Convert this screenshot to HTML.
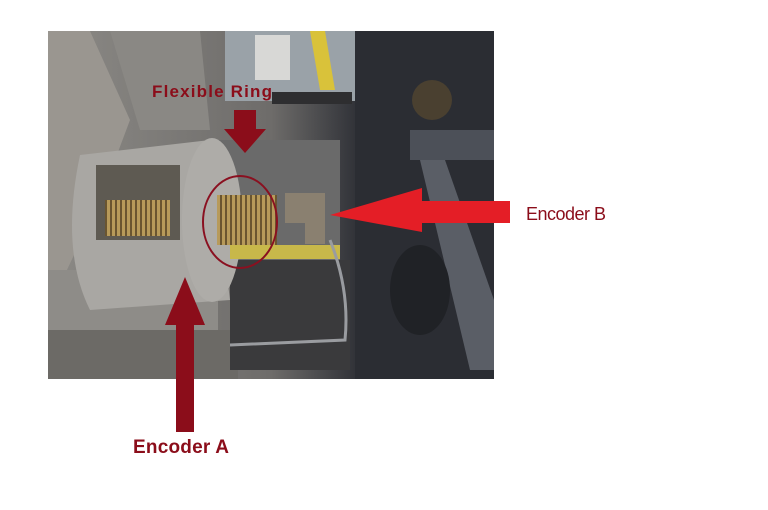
<!DOCTYPE html>
<html><head><meta charset="utf-8"><style>
html,body{margin:0;padding:0;background:#fff;width:768px;height:510px;overflow:hidden}
svg{display:block}
</style></head><body>
<svg width="768" height="510" viewBox="0 0 768 510" xmlns="http://www.w3.org/2000/svg">
<defs>
<linearGradient id="bg" x1="0" x2="1" y1="0" y2="0">
<stop offset="0" stop-color="#8c8a86"/><stop offset="0.5" stop-color="#6e6c6a"/><stop offset="0.7" stop-color="#2e3036"/><stop offset="1" stop-color="#3a3c42"/>
</linearGradient>
<pattern id="spring" width="5" height="10" patternUnits="userSpaceOnUse">
<rect width="5" height="10" fill="#b79a5a"/><rect width="2" height="10" fill="#6a5530"/>
</pattern>
</defs>
<rect x="48" y="31" width="446" height="348" fill="url(#bg)"/>
<rect x="225" y="31" width="130" height="70" fill="#9aa2a8"/>
<rect x="255" y="35" width="35" height="45" fill="#d8d8d6"/>
<polygon points="310,31 325,31 335,90 320,90" fill="#d9c23a"/>
<rect x="272" y="92" width="80" height="12" fill="#2e2e30"/>
<rect x="355" y="31" width="139" height="348" fill="#2b2d33"/>
<circle cx="432" cy="100" r="20" fill="#4a4030"/>
<polygon points="410,130 494,130 494,160 410,160" fill="#4c5058"/>
<polygon points="420,160 445,160 494,300 494,370 470,370" fill="#5a5e66"/>
<ellipse cx="420" cy="290" rx="30" ry="45" fill="#202226"/>
<polygon points="48,31 90,31 130,120 100,200 48,310" fill="#9a9690"/>
<polygon points="110,31 200,31 210,130 140,130" fill="#8a8884"/>
<rect x="48" y="330" width="190" height="49" fill="#6c6a66"/>
<rect x="205" y="140" width="135" height="140" fill="#6a6a6a"/>
<rect x="230" y="260" width="120" height="110" fill="#3a3a3c"/>
<rect x="48" y="270" width="170" height="60" fill="#8e8c88"/>
<path d="M80,155 L210,140 L230,300 L90,310 Q60,250 80,155 Z" fill="#a9a7a3"/>
<ellipse cx="212" cy="220" rx="30" ry="82" fill="#aeaca8"/>
<rect x="96" y="165" width="84" height="75" fill="#5e5a52"/>
<rect x="105" y="200" width="65" height="36" fill="url(#spring)"/>
<rect x="217" y="195" width="60" height="50" fill="url(#spring)"/>
<rect x="285" y="193" width="40" height="30" fill="#8a8070"/>
<rect x="305" y="222" width="20" height="22" fill="#8a8070"/>
<rect x="230" y="245" width="110" height="14" fill="#c8b84a"/>
<path d="M330,240 Q350,290 345,340 L230,345" stroke="#9a9ca0" stroke-width="3" fill="none"/>
<ellipse cx="240" cy="222" rx="37" ry="46" fill="none" stroke="#8a1020" stroke-width="2"/>
<polygon points="234,110 256,110 256,129 266,129 245,153 224,129 234,129" fill="#8b0d1a"/>
<text x="152" y="97" font-family="Liberation Sans, sans-serif" font-weight="bold" font-size="17" fill="#8b0d1a" textLength="120">Flexible Ring</text>
<polygon points="510,201 422,201 422,188 330,215 422,232 422,223 510,223" fill="#e41e26"/>
<text x="526" y="220" font-family="Liberation Sans, sans-serif" font-size="18" fill="#8b0d1a" textLength="80">Encoder B</text>
<polygon points="176,432 194,432 194,325 205,325 185,277 165,325 176,325" fill="#8b0d1a"/>
<text x="133" y="453" font-family="Liberation Sans, sans-serif" font-weight="bold" font-size="19" fill="#8b0d1a" textLength="96">Encoder A</text>
</svg>
</body></html>
